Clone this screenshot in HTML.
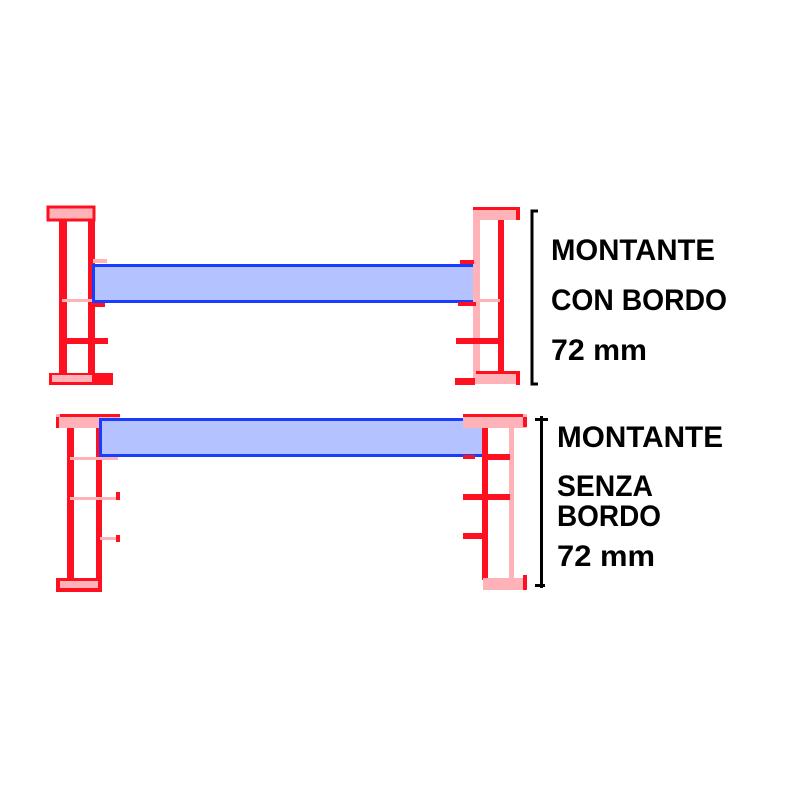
<!DOCTYPE html>
<html><head><style>html,body{margin:0;padding:0;background:#fff;}svg{display:block}</style></head>
<body>
<svg width="800" height="800" viewBox="0 0 800 800" xmlns="http://www.w3.org/2000/svg">
<rect width="800" height="800" fill="#fff"/>
<!-- TOP LEFT POST -->
<rect x="48" y="207" width="46" height="13" fill="#ffb3b8" stroke="#ff1020" stroke-width="3"/>
<rect x="59" y="220" width="8" height="155" fill="#ff1020"/>
<rect x="88" y="220" width="7" height="155" fill="#ff1020"/>
<rect x="62" y="299" width="33" height="3" fill="#ffb3b8"/>
<rect x="62" y="338" width="46" height="6" fill="#ff1020"/>
<rect x="93" y="259" width="14" height="4" fill="#ffb3b8"/>
<rect x="95" y="303" width="10" height="4" fill="#ff1020"/>
<rect x="49" y="373" width="64" height="12" fill="#ff1020"/>
<rect x="52" y="375" width="40" height="7" fill="#ffb3b8"/>
<!-- TOP BEAM -->
<rect x="93.5" y="265.5" width="382" height="36" fill="#b4c2ff" stroke="#1a3cff" stroke-width="3"/>
<!-- TOP RIGHT POST -->
<rect x="473" y="207" width="47" height="13" fill="#ffb3b8"/>
<rect x="473" y="207" width="47" height="3" fill="#ff1020"/>
<rect x="516" y="210" width="4" height="10" fill="#ff1020"/>
<rect x="473" y="220" width="7" height="160" fill="#ffb3b8"/>
<rect x="498" y="220" width="6" height="155" fill="#ff1020"/>
<rect x="478" y="299" width="22" height="3" fill="#ffb3b8"/>
<rect x="456" y="338" width="48" height="6" fill="#ff1020"/>
<rect x="460" y="260" width="14" height="4" fill="#ff1020"/>
<rect x="458" y="302" width="18" height="4" fill="#ff1020"/>
<rect x="473" y="374" width="47" height="10" fill="#ffb3b8"/>
<rect x="476" y="371" width="44" height="3" fill="#ff1020"/>
<rect x="516" y="371" width="4" height="14" fill="#ff1020"/>
<rect x="455" y="378" width="20" height="7" fill="#ff1020"/>
<!-- bracket -->
<path d="M538 211 H532 V384 H538" fill="none" stroke="#000" stroke-width="3"/>
<!-- BOTTOM LEFT POST -->
<rect x="56" y="414" width="64" height="14" fill="#ffb3b8"/>
<rect x="60" y="414" width="60" height="3" fill="#ff1020"/>
<rect x="56" y="417" width="3" height="11" fill="#ff1020"/>
<rect x="67" y="428" width="7" height="152" fill="#ff1020"/>
<rect x="96" y="428" width="6" height="152" fill="#ff1020"/>
<rect x="70" y="457" width="48" height="3" fill="#ffb3b8"/>
<rect x="70" y="497" width="48" height="3" fill="#ffb3b8"/>
<rect x="100" y="537" width="18" height="3" fill="#ffb3b8"/>
<rect x="116" y="492" width="4" height="8" fill="#ff1020"/>
<rect x="116" y="535" width="4" height="7" fill="#ff1020"/>
<rect x="56" y="578" width="46" height="14" fill="#ff1020"/>
<rect x="60" y="581" width="38" height="7" fill="#ffb3b8"/>
<!-- BOTTOM BEAM -->
<rect x="100.5" y="419.5" width="383" height="36" fill="#b4c2ff" stroke="#1a3cff" stroke-width="3"/>
<!-- BOTTOM RIGHT POST -->
<rect x="463" y="414" width="64" height="14" fill="#ffb3b8"/>
<rect x="463" y="414" width="60" height="3" fill="#ff1020"/>
<rect x="523" y="417" width="4" height="10" fill="#ff1020"/>
<rect x="482" y="428" width="6" height="152" fill="#ff1020"/>
<rect x="509" y="428" width="5" height="152" fill="#ffb3b8"/>
<rect x="486" y="454" width="24" height="6" fill="#ff1020"/>
<rect x="463" y="494" width="47" height="6" fill="#ff1020"/>
<rect x="463" y="533" width="22" height="6" fill="#ff1020"/>
<rect x="463" y="455" width="12" height="4" fill="#ff1020"/>
<rect x="483" y="578" width="44" height="12" fill="#ffb3b8"/>
<rect x="523" y="575" width="4" height="15" fill="#ff1020"/>
<!-- arrow line -->
<rect x="540" y="416" width="3" height="172" fill="#000"/>
<rect x="535" y="418" width="13" height="3" fill="#000"/>
<rect x="535" y="584" width="10" height="3" fill="#000"/>
<!-- TEXT -->
<g font-family="Liberation Sans, sans-serif" font-weight="bold" font-size="30" fill="#000">
<text x="551" y="260" textLength="164" lengthAdjust="spacingAndGlyphs">MONTANTE</text>
<text x="551" y="310" textLength="176" lengthAdjust="spacingAndGlyphs">CON BORDO</text>
<text x="551" y="360" textLength="96" lengthAdjust="spacingAndGlyphs">72 mm</text>
<text x="557" y="447" textLength="166" lengthAdjust="spacingAndGlyphs">MONTANTE</text>
<text x="557" y="496" textLength="96" lengthAdjust="spacingAndGlyphs">SENZA</text>
<text x="557" y="526" textLength="104" lengthAdjust="spacingAndGlyphs">BORDO</text>
<text x="557" y="566" textLength="98" lengthAdjust="spacingAndGlyphs">72 mm</text>
</g>
</svg>
</body></html>
